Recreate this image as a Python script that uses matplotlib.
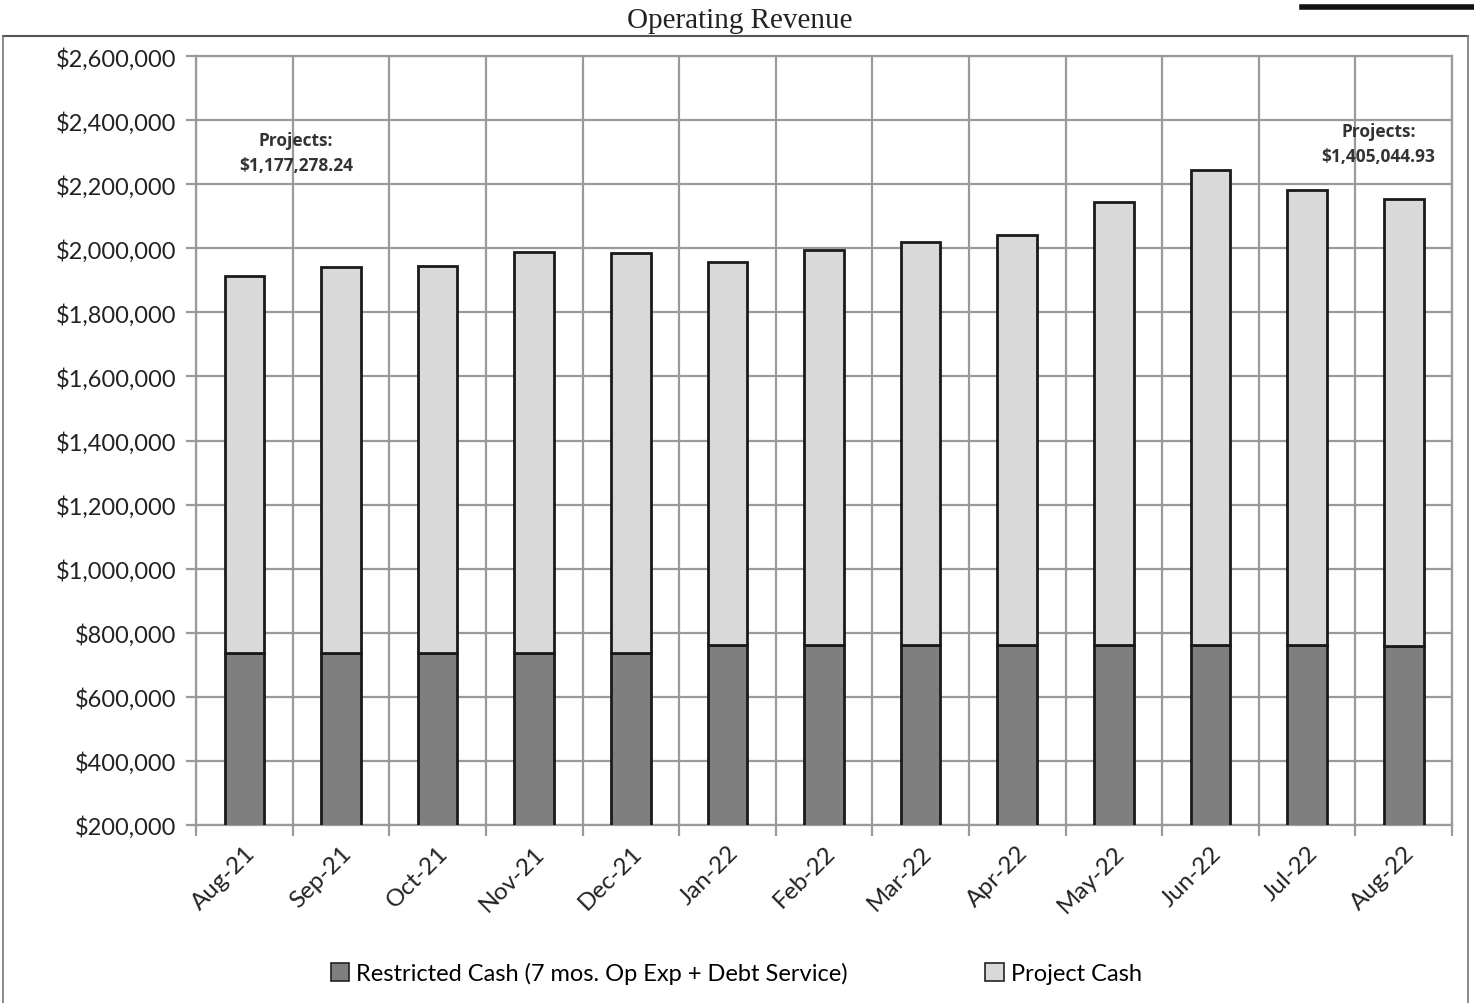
import matplotlib
matplotlib.use("Agg")
import matplotlib.pyplot as plt
from matplotlib.patches import Patch
from matplotlib.lines import Line2D
from matplotlib.ticker import FuncFormatter, MultipleLocator
import numpy as np

# Values
months = ["Aug-21", "Sep-21", "Oct-21", "Nov-21", "Dec-21", "Jan-22", "Feb-22",
          "Mar-22", "Apr-22", "May-22", "Jun-22", "Jul-22", "Aug-22"]
restricted_cash = [737000, 737000, 737000, 737000, 737000, 762000, 762000,
                   762000, 762000, 761000, 761000, 761000, 760000]
total_cash = [1913000, 1942000, 1944000, 1988000, 1985000, 1957000, 1995000,
              2020000, 2041000, 2144000, 2244000, 2182000, 2154000]
project_cash = [t - r for t, r in zip(total_cash, restricted_cash)]
projects_labels = ["Projects:\n$1,177,278.24", "Projects:\n$1,405,044.93"]

DARK = "#7f7f7f"
LIGHT = "#d9d9d9"
GRID = "#9a9a9a"

fig = plt.figure(figsize=(14.74, 10.04), dpi=100)
ax = fig.add_axes([0.1330, 0.1773, 0.8521, 0.7659])

x = np.arange(len(months))
ax.bar(x, restricted_cash, width=0.41, color=DARK, edgecolor="#1a1a1a",
       linewidth=2, zorder=3)
ax.bar(x, project_cash, bottom=restricted_cash, width=0.41, color=LIGHT,
       edgecolor="#1a1a1a", linewidth=2, zorder=3)

ax.set_xlim(-0.5, len(months) - 0.5)
ax.set_ylim(200000, 2600000)

# y axis
ax.yaxis.set_major_locator(MultipleLocator(200000))
ax.yaxis.set_major_formatter(FuncFormatter(lambda v, _: f"${v:,.0f}"))
ax.grid(True, axis="y", color=GRID, linewidth=1.6, zorder=0)

# x axis: labels at centres, gridlines/ticks at boundaries
ax.set_xticks(x)
ax.set_xticklabels(months, rotation=45, ha="right", rotation_mode="anchor",
                   fontsize=17.5, family="Lato")
ax.set_xticks(np.arange(-0.5, len(months)), minor=True)
ax.grid(True, axis="x", which="minor", color=GRID, linewidth=1.6, zorder=0)
ax.tick_params(axis="x", which="major", length=0, pad=12)
ax.tick_params(axis="x", which="minor", length=8, width=1.6, color=GRID)
ax.tick_params(axis="y", length=7, width=1.6, color=GRID, pad=7)
for lbl in ax.get_yticklabels():
    lbl.set_fontsize(17)
    lbl.set_family("Lato")
    lbl.set_color("#222222")
for lbl in ax.get_xticklabels():
    lbl.set_color("#222222")

for s in ax.spines.values():
    s.set_color(GRID)
    s.set_linewidth(1.6)

ax.text(0.535, 2300000, projects_labels[0], ha="center", va="center",
        fontsize=12.5, fontweight="bold", family="Open Sans", color="#333333",
        linespacing=1.5)
ax.text(11.74, 2328000, projects_labels[1], ha="center", va="center",
        fontsize=12.5, fontweight="bold", family="Open Sans", color="#333333",
        linespacing=1.5)

fig.text(0.502, 0.979, "Operating Revenue", ha="center", va="center",
         fontsize=21, family="Liberation Serif", color="#222222")

# outer frame of the scanned page
fig.add_artist(Line2D([3 / 1474, 1468 / 1474], [1 - 37 / 1004] * 2,
                      color="#555555", linewidth=1.5))
fig.add_artist(Line2D([3 / 1474] * 2, [0, 1 - 37 / 1004],
                      color="#777777", linewidth=1.2))
fig.add_artist(Line2D([1468 / 1474] * 2, [0, 1 - 37 / 1004],
                      color="#777777", linewidth=1.2))
fig.add_artist(Line2D([1302 / 1474, 1], [1 - 8 / 1004] * 2,
                      color="#111111", linewidth=4))

handles = [Patch(facecolor=DARK, edgecolor="#222222", linewidth=1.2),
           Patch(facecolor=LIGHT, edgecolor="#222222", linewidth=1.2)]
fig.legend(handles, ["Restricted Cash (7 mos. Op Exp + Debt Service)", "Project Cash"],
           loc="center", bbox_to_anchor=(0.4995, 0.030), ncol=2, frameon=False,
           handlelength=0.8, handleheight=0.8, handletextpad=0.3,
           columnspacing=5.8, prop={"family": "Lato", "size": 17})

fig.savefig("out.png", dpi=100)
